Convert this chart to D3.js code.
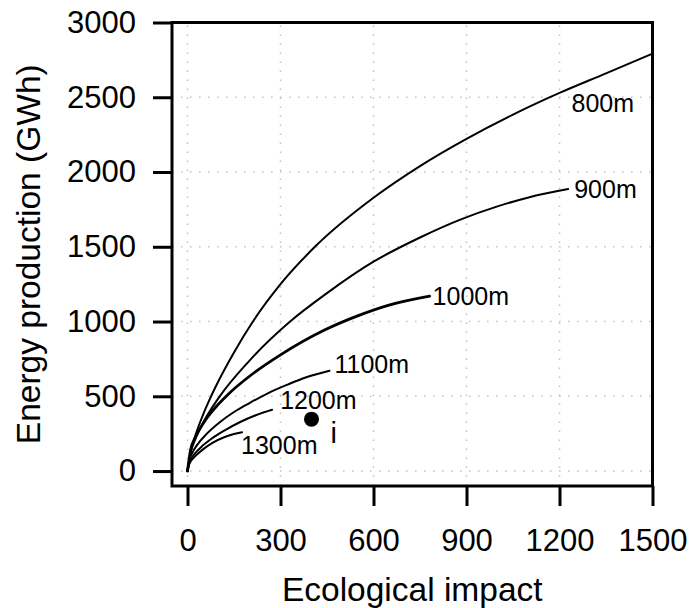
<!DOCTYPE html>
<html>
<head>
<meta charset="utf-8">
<script src="https://cdn.jsdelivr.net/npm/d3@7"></script>
<style>
  html, body { margin: 0; padding: 0; background: #fff; }
  svg { display: block; font-family: "Liberation Sans", Arial, Helvetica, sans-serif; }
</style>
</head>
<body>
<svg id="chart" width="691" height="608"></svg>
<script>
// ---- Data ----
const xTicks = [0, 300, 600, 900, 1200, 1500];
const yTicks = [0, 500, 1000, 1500, 2000, 2500, 3000];

const seriesNames = ["800m", "900m", "1000m", "1100m", "1200m", "1300m"];

const impact800 = [0, 10, 25, 50, 73, 100, 150, 211, 300, 415, 600, 750, 900, 1050, 1200, 1350, 1500];
const energy800 = [0, 126, 235, 376, 486, 602, 793, 1000, 1250, 1508, 1828, 2040, 2222, 2384, 2529, 2660, 2792];

const impact900 = [0, 10, 25, 50, 100, 200, 331, 450, 600, 750, 878, 1000, 1100, 1228];
const energy900 = [0, 122, 212, 322, 488, 739, 1000, 1190, 1400, 1562, 1680, 1770, 1830, 1886];

const impact1000 = [0, 10, 25, 50, 100, 135, 200, 300, 442, 555, 650, 781];
const energy1000 = [0, 142, 224, 317, 448, 521, 634, 777, 943, 1043, 1110, 1170];

const impact1100 = [0, 6, 15, 30, 60, 100, 150, 200, 259, 325, 381, 458];
const energy1100 = [0, 75, 120, 172, 245, 320, 395, 455, 520, 580, 626, 671];

const impact1200 = [0, 5, 12, 25, 50, 80, 120, 170, 220, 273];
const energy1200 = [0, 50, 82, 120, 172, 220, 272, 328, 373, 410];

const impact1300 = [0, 5, 12, 25, 50, 82, 120, 150, 176];
const energy1300 = [0, 42, 70, 100, 145, 190, 228, 248, 260];

const pointName = "i";
const pointImpact = 400;
const pointEnergy = 347;

const xLabel = "Ecological impact";
const yLabel = "Energy production (GWh)";

// ---- Build series ----
const impacts = [impact800, impact900, impact1000, impact1100, impact1200, impact1300];
const energies = [energy800, energy900, energy1000, energy1100, energy1200, energy1300];
const series = seriesNames.map((name, i) => ({
  name,
  values: impacts[i].map((x, j) => ({ x, y: energies[i][j] }))
}));

// ---- Layout ----
const svg = d3.select("#chart");
const box = { left: 172, right: 652.5, top: 22.5, bottom: 486 };
const x = d3.scaleLinear().domain([-50, 1500]).range([box.left, box.right]);
const y = d3.scaleLinear().domain([-100, 3000]).range([box.bottom, box.top]);

// grid
const grid = svg.append("g").attr("stroke", "#c4c4c4").attr("stroke-width", 1.6)
  .attr("stroke-dasharray", "1.6,7.4");
grid.selectAll("line.v").data(xTicks).join("line")
  .attr("x1", d => x(d)).attr("x2", d => x(d))
  .attr("y1", box.bottom).attr("y2", box.top);
grid.selectAll("line.h").data(yTicks).join("line")
  .attr("y1", d => y(d)).attr("y2", d => y(d))
  .attr("x1", box.left).attr("x2", box.right);

// curves
const line = d3.line().x(d => x(d.x)).y(d => y(d.y)).curve(d3.curveMonotoneX);
svg.append("g").selectAll("path").data(series).join("path")
  .attr("d", d => line(d.values))
  .attr("fill", "none")
  .attr("stroke", "#000")
  .attr("stroke-width", d => d.name === "1000m" ? 2.8 : 2)
  .attr("stroke-linecap", "round");

// curve labels (offsets in px from curve end)
const labelOffsets = {
  "800m":  { dx: -81, dy: 49 },
  "900m":  { dx: 6,   dy: 0 },
  "1000m": { dx: 3,   dy: 0 },
  "1100m": { dx: 5,   dy: -7 },
  "1200m": { dx: 8,   dy: -10 },
  "1300m": { dx: -1,  dy: 13 }
};
svg.append("g").selectAll("text").data(series).join("text")
  .attr("x", d => x(d.values[d.values.length - 1].x) + labelOffsets[d.name].dx)
  .attr("y", d => y(d.values[d.values.length - 1].y) + labelOffsets[d.name].dy)
  .attr("dy", "0.36em")
  .attr("font-size", 25)
  .attr("fill", "#000")
  .text(d => d.name);

// point
svg.append("circle")
  .attr("cx", x(pointImpact)).attr("cy", y(pointEnergy)).attr("r", 7.5).attr("fill", "#000");
svg.append("text")
  .attr("x", x(pointImpact) + 19).attr("y", y(pointEnergy) + 24)
  .attr("font-size", 29).attr("fill", "#000").text(pointName);

// axes
const yAxis = d3.axisLeft(y).tickValues(yTicks).tickSize(19).tickPadding(17).tickFormat(d3.format("d"));
const gy = svg.append("g").attr("transform", `translate(${box.left},0)`).call(yAxis);
const xAxis = d3.axisBottom(x).tickValues(xTicks).tickSize(20).tickPadding(23).tickFormat(d3.format("d"));
const gx = svg.append("g").attr("transform", `translate(0,${box.bottom})`).call(xAxis);
[gx, gy].forEach(g => {
  g.select(".domain").remove();
  g.selectAll(".tick line").attr("stroke", "#000").attr("stroke-width", 3);
  g.selectAll(".tick text").attr("font-size", 31).attr("fill", "#000")
    .attr("font-family", "'Liberation Sans', Arial, sans-serif");
});

// box
svg.append("rect")
  .attr("x", box.left).attr("y", box.top)
  .attr("width", box.right - box.left).attr("height", box.bottom - box.top)
  .attr("fill", "none").attr("stroke", "#000").attr("stroke-width", 3);

// titles
svg.append("text")
  .attr("x", (box.left + box.right) / 2).attr("y", 601)
  .attr("text-anchor", "middle").attr("font-size", 33.5).attr("fill", "#000")
  .text(xLabel);
svg.append("text")
  .attr("transform", `translate(40,${(box.top + box.bottom) / 2}) rotate(-90)`)
  .attr("text-anchor", "middle").attr("font-size", 33.5).attr("fill", "#000")
  .text(yLabel);
</script>
</body>
</html>
